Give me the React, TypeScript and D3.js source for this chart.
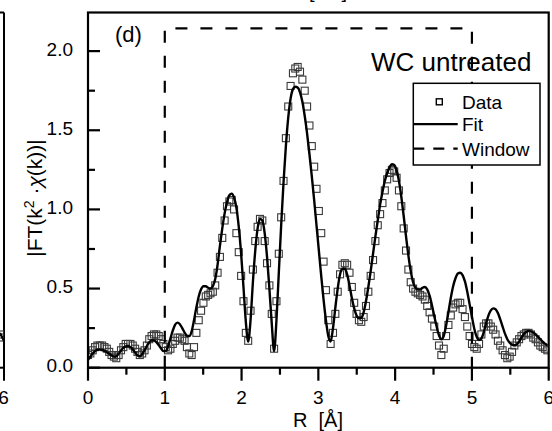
import React from 'react';
import * as d3 from 'd3';

const W = 552;
const H = 431;

// R grid step of the FT (Å)
const R_STEP = 0.03068;

// |FT| data (squares)
const dataY = [
  0.08, 0.09, 0.11, 0.13, 0.14, 0.14, 0.14, 0.13, 0.12, 0.10,
  0.08, 0.07, 0.06, 0.08, 0.11, 0.13, 0.15, 0.15, 0.15, 0.14,
  0.12, 0.10, 0.08, 0.09, 0.11, 0.14, 0.18, 0.20, 0.21, 0.21,
  0.20, 0.18, 0.15, 0.13, 0.11, 0.12, 0.15, 0.17, 0.19, 0.19,
  0.18, 0.17, 0.13, 0.09, 0.08, 0.13, 0.22, 0.30, 0.36, 0.41,
  0.45, 0.46, 0.47, 0.48, 0.52, 0.60, 0.70, 0.82, 0.93, 1.02,
  1.05, 1.06, 1.00, 0.85, 0.73, 0.58, 0.42, 0.22, 0.17, 0.36,
  0.62, 0.80, 0.89, 0.94, 0.93, 0.80, 0.66, 0.52, 0.34, 0.12,
  0.42, 0.72, 0.95, 1.18, 1.45, 1.65, 1.78, 1.86, 1.89, 1.90,
  1.87, 1.82, 1.75, 1.65, 1.53, 1.40, 1.27, 1.13, 0.99, 0.85,
  0.67, 0.49, 0.30, 0.15, 0.22, 0.34, 0.48, 0.59, 0.65, 0.66,
  0.65, 0.60, 0.51, 0.41, 0.34, 0.30, 0.29, 0.32, 0.39, 0.48,
  0.58, 0.68, 0.80, 0.90, 0.97, 1.04, 1.12, 1.19, 1.23, 1.25,
  1.24, 1.20, 1.12, 1.02, 0.88, 0.74, 0.62, 0.54, 0.50, 0.48,
  0.47, 0.46, 0.45, 0.43, 0.39, 0.35, 0.31, 0.26, 0.20, 0.14,
  0.08, 0.12, 0.20, 0.27, 0.33, 0.38, 0.40, 0.41, 0.41, 0.37,
  0.32, 0.26, 0.20, 0.15, 0.13, 0.12, 0.15, 0.21, 0.26, 0.28,
  0.28, 0.26, 0.24, 0.21, 0.17, 0.14, 0.11, 0.08, 0.06, 0.07,
  0.10, 0.14, 0.16, 0.18, 0.20, 0.21, 0.22, 0.22, 0.21, 0.19,
  0.18, 0.16, 0.14, 0.13, 0.12, 0.11,
];

// Fit curve
const fitY = [
  0.05, 0.07, 0.09, 0.105, 0.113, 0.114, 0.112, 0.106, 0.098, 0.088,
  0.078, 0.070, 0.072, 0.088, 0.108, 0.125, 0.135, 0.137, 0.130, 0.116,
  0.096, 0.078, 0.072, 0.085, 0.110, 0.137, 0.160, 0.172, 0.172, 0.162,
  0.143, 0.122, 0.105, 0.105, 0.135, 0.185, 0.235, 0.272, 0.285, 0.275,
  0.250, 0.222, 0.202, 0.200, 0.230, 0.300, 0.380, 0.450, 0.495, 0.515,
  0.515, 0.505, 0.500, 0.515, 0.560, 0.650, 0.770, 0.880, 0.975, 1.045,
  1.090, 1.100, 1.075, 1.010, 0.890, 0.720, 0.510, 0.290, 0.165, 0.300,
  0.540, 0.740, 0.880, 0.940, 0.930, 0.850, 0.700, 0.500, 0.280, 0.105,
  0.300, 0.600, 0.900, 1.170, 1.400, 1.580, 1.700, 1.760, 1.775, 1.770,
  1.740, 1.680, 1.590, 1.480, 1.350, 1.210, 1.060, 0.900, 0.740, 0.580,
  0.430, 0.300, 0.200, 0.165, 0.250, 0.380, 0.500, 0.590, 0.625, 0.625,
  0.590, 0.520, 0.440, 0.375, 0.330, 0.312, 0.315, 0.350, 0.420, 0.510,
  0.610, 0.720, 0.830, 0.930, 1.030, 1.110, 1.180, 1.230, 1.265, 1.285,
  1.280, 1.245, 1.180, 1.080, 0.960, 0.830, 0.710, 0.610, 0.540, 0.505,
  0.495, 0.495, 0.505, 0.510, 0.495, 0.455, 0.395, 0.325, 0.260, 0.205,
  0.180, 0.200, 0.265, 0.350, 0.440, 0.515, 0.565, 0.595, 0.600, 0.585,
  0.545, 0.480, 0.400, 0.320, 0.245, 0.195, 0.175, 0.185, 0.225, 0.280,
  0.330, 0.362, 0.375, 0.370, 0.345, 0.305, 0.260, 0.215, 0.180, 0.158,
  0.146, 0.142, 0.148, 0.165, 0.190, 0.212, 0.226, 0.232, 0.230, 0.222,
  0.210, 0.195, 0.180, 0.165, 0.152, 0.142,
];

// FT window (box between R = 1 and R = 5)
const windowR = [1, 1, 5, 5];
const windowY = [0, 2.144, 2.144, 0];

const xMajorTicks = [0, 1, 2, 3, 4, 5, 6];
const xMinorTicks = [0.5, 1.5, 2.5, 3.5, 4.5, 5.5];
const yMajorTicks = [0, 0.5, 1.0, 1.5, 2.0];
const yMinorTicks = [0.25, 0.75, 1.25, 1.75];

const legendLabels = ['Data', 'Fit', 'Window'];

const FONT = "'Liberation Sans', Arial, Helvetica, sans-serif";

export default function App() {
  const x = d3.scaleLinear().domain([0, 6]).range([88, 548.7]);
  const y = d3.scaleLinear().domain([0, 2.244]).range([367.7, 12.5]);
  const [x0, x1] = x.range();
  const [y0, y1] = y.range();

  const rGrid = dataY.map((_, i) => i * R_STEP);
  const dataPts = dataY.map((v, i) => [rGrid[i], v] as [number, number]);
  const fitPts = fitY.map((v, i) => [rGrid[i], v] as [number, number]);
  const winPts = windowR.map((r, i) => [r, windowY[i]] as [number, number]);

  const line = d3
    .line<[number, number]>()
    .x((d) => x(d[0]))
    .y((d) => y(d[1]))
    .curve(d3.curveMonotoneX);
  const straight = d3
    .line<[number, number]>()
    .x((d) => x(d[0]))
    .y((d) => y(d[1]));

  const fmtY = d3.format('.1f');
  const sq = 7;

  const legX = 413.3;
  const legY = 83.3;
  const legW = 126.7;
  const legH = 81.7;
  const rowY = [101.8, 124.2, 148.6];

  return (
    <svg
      width={W}
      height={H}
      style={{ position: 'absolute', left: 0, top: 0 }}
      fontFamily={FONT}
    >
      <rect x={0} y={0} width={W} height={H} fill="#fff" />
      <defs>
        <clipPath id="plotClip">
          <rect x={x0} y={y1} width={x1 - x0} height={y0 - y1} />
        </clipPath>
        <clipPath id="leftClip">
          <rect x={0} y={0} width={4} height={H} />
        </clipPath>
      </defs>

      {/* neighbouring panel fragments */}
      <g stroke="#000" strokeWidth={2} fill="none">
        <line x1={4} y1={y1} x2={4} y2={y0 + 13} />
        <line x1={0} y1={y1} x2={4} y2={y1} />
        <line x1={0} y1={y0} x2={4} y2={y0} />
      </g>
      <g clipPath="url(#leftClip)" fill="none" stroke="#333" strokeWidth={1.1}>
        <rect x={-3} y={331} width={sq} height={sq} />
        <rect x={-1} y={334} width={sq} height={sq} />
        <path d="M0,333 L4,341" stroke="#000" strokeWidth={2.2} />
      </g>
      <text x={3.5} y={403.5} fontSize={19} textAnchor="middle">6</text>
      <text x={309} y={-2} fontSize={20}>
        [Å<tspan>⁻¹</tspan>]
      </text>

      {/* data squares */}
      <g clipPath="url(#plotClip)">
        {dataPts.map((d, i) => (
          <rect
            key={i}
            x={x(d[0]) - sq / 2}
            y={y(d[1]) - sq / 2}
            width={sq}
            height={sq}
            fill="none"
            stroke="#3a3a3a"
            strokeWidth={1.1}
          />
        ))}
        <path d={line(fitPts) || ''} fill="none" stroke="#000" strokeWidth={2.4} />
      </g>

      {/* window */}
      <path
        d={straight(winPts) || ''}
        fill="none"
        stroke="#000"
        strokeWidth={2.2}
        strokeDasharray="12,13"
      />

      {/* frame */}
      <rect
        x={x0}
        y={y1}
        width={x1 - x0}
        height={y0 - y1}
        fill="none"
        stroke="#000"
        strokeWidth={2.2}
      />

      {/* ticks: y inward, x outward */}
      <g stroke="#000" strokeWidth={2.2}>
        {yMajorTicks.map((t) => (
          <line key={'ym' + t} x1={x0} x2={x0 + 12} y1={y(t)} y2={y(t)} />
        ))}
        {yMinorTicks.map((t) => (
          <line key={'yn' + t} x1={x0} x2={x0 + 7} y1={y(t)} y2={y(t)} />
        ))}
        {xMajorTicks.map((t) => (
          <line key={'xm' + t} x1={x(t)} x2={x(t)} y1={y0} y2={y0 + 13} />
        ))}
        {xMinorTicks.map((t) => (
          <line key={'xn' + t} x1={x(t)} x2={x(t)} y1={y0} y2={y0 + 7} />
        ))}
      </g>

      {/* tick labels */}
      <g fontSize={19} fill="#000">
        {yMajorTicks.map((t) => (
          <text key={'yl' + t} x={73} y={y(t) + 4.5} textAnchor="end">
            {fmtY(t)}
          </text>
        ))}
        {xMajorTicks.map((t) => (
          <text key={'xl' + t} x={x(t)} y={403.5} textAnchor="middle">
            {t}
          </text>
        ))}
      </g>

      {/* axis titles */}
      <text x={293} y={426.5} fontSize={20}>
        {'R\u00A0\u00A0[Å]'}
      </text>
      <text
        transform="translate(41.5,198) rotate(-90)"
        fontSize={21}
        textAnchor="middle"
      >
        |FT(k<tspan dy={-8} fontSize={14}>2</tspan>
        <tspan dy={8}>{'\u00A0·'}</tspan>
        <tspan fontStyle="italic">χ</tspan>(k))|
      </text>

      {/* annotations */}
      <text x={115} y={42} fontSize={22}>(d)</text>
      <text x={371} y={71} fontSize={26}>WC untreated</text>

      {/* legend */}
      <rect
        x={legX}
        y={legY}
        width={legW}
        height={legH}
        fill="#fff"
        stroke="#000"
        strokeWidth={1.5}
      />
      <rect
        x={439.3 - 3}
        y={rowY[0] - 3}
        width={6}
        height={6}
        fill="none"
        stroke="#000"
        strokeWidth={1.4}
      />
      <line x1={legX} x2={457.7} y1={rowY[1]} y2={rowY[1]} stroke="#000" strokeWidth={2.2} />
      <line
        x1={legX}
        x2={457.7}
        y1={rowY[2]}
        y2={rowY[2]}
        stroke="#000"
        strokeWidth={2.2}
        strokeDasharray="11,9"
      />
      <g fontSize={19}>
        {legendLabels.map((l, i) => (
          <text key={l} x={462} y={rowY[i] + 7}>
            {l}
          </text>
        ))}
      </g>
    </svg>
  );
}
